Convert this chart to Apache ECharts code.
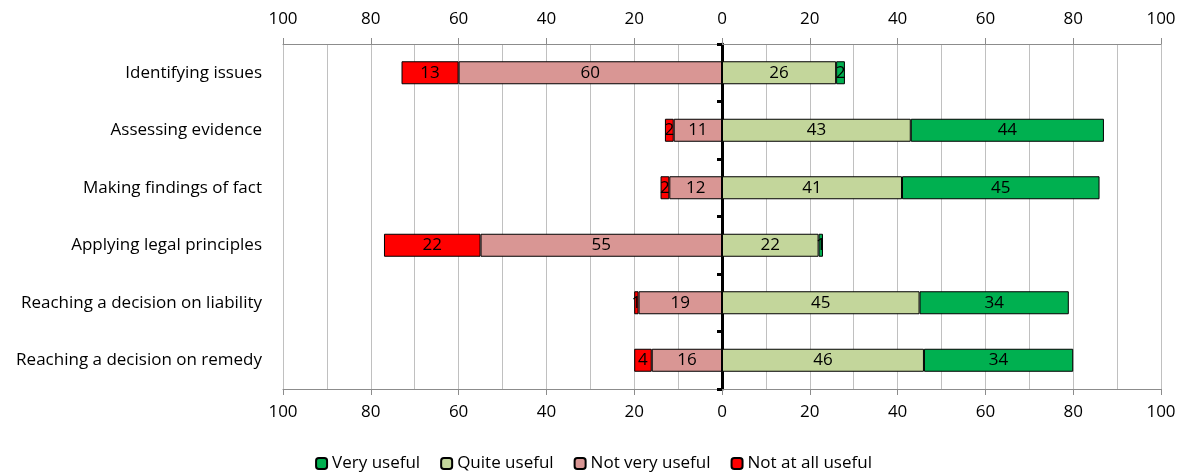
<!DOCTYPE html>
<html>
<head>
<meta charset="utf-8">
<script src="https://cdn.jsdelivr.net/npm/echarts@6/dist/echarts.min.js"></script>
<style>html,body{margin:0;padding:0;background:#fff}#c{width:1187px;height:473px}</style>
</head>
<body>
<div id="c"></div>
<script>
const categories = ["Identifying issues","Assessing evidence","Making findings of fact","Applying legal principles","Reaching a decision on liability","Reaching a decision on remedy"];
const veryUseful = [2, 44, 45, 1, 34, 34];
const quiteUseful = [26, 43, 41, 22, 45, 46];
const notVeryUseful = [60, 11, 12, 55, 19, 16];
const notAtAllUseful = [13, 2, 2, 22, 1, 4];

const FONT = "'Open Sans', Lato, sans-serif";
const FS = 17;
const chart = echarts.init(document.getElementById('c'));
const neg = a => a.map(v => -v);
const lbl = {show: true, position: 'inside', color: '#000', fontSize: FS, fontFamily: FONT,
  formatter: p => Math.abs(p.value)};
function s(name, data, color) {
  return {name, type: 'bar', stack: 'total', data, barWidth: '40%', xAxisIndex: 1,
    itemStyle: {color, borderColor: '#000', borderWidth: 1}, label: lbl, emphasis: {disabled: true}};
}
function xAx(pos, margin) {
  return {
    type: 'value', min: -100, max: 100, interval: 20, position: pos,
    axisLine: {show: true, onZero: false, lineStyle: {color: '#8c8c8c', width: 1}},
    axisTick: {show: true, length: 6, lineStyle: {color: '#8c8c8c'}},
    axisLabel: {color: '#000', fontSize: FS, fontFamily: FONT, margin, formatter: v => Math.abs(v)},
    splitLine: {show: true, lineStyle: {color: '#c0c0c0'}},
    minorTick: {show: false, splitNumber: 2},
    minorSplitLine: {show: true, lineStyle: {color: '#c0c0c0'}}
  };
}
chart.setOption({
  animation: false,
  textStyle: {fontFamily: FONT},
  grid: {left: 283, right: 26, top: 44, bottom: 84},
  legend: {
    top: 450, left: 'center', itemWidth: 11, itemHeight: 11, itemGap: 20,
    textStyle: {fontSize: FS, color: '#000', fontFamily: FONT},
    data: ['Very useful', 'Quite useful', 'Not very useful', 'Not at all useful']
  },
  xAxis: [xAx('top', 16), xAx('bottom', 15)],
  yAxis: [
    {type: 'category', data: categories, inverse: true,
      axisLine: {show: false}, axisTick: {show: false},
      axisLabel: {color: '#000', fontSize: FS, fontFamily: FONT, margin: 21}},
    {type: 'category', data: categories, inverse: true, position: 'left',
      axisLine: {show: true, onZero: true, onZeroAxisIndex: 1, lineStyle: {color: '#000', width: 3}},
      axisTick: {show: true, length: 5, lineStyle: {color: '#000', width: 3}},
      axisLabel: {show: false}}
  ],
  series: [
    s('Not very useful', neg(notVeryUseful), '#D99694'),
    s('Not at all useful', neg(notAtAllUseful), '#FF0000'),
    s('Quite useful', quiteUseful, '#C3D69B'),
    s('Very useful', veryUseful, '#00B050')
  ]
});
</script>
</body>
</html>
